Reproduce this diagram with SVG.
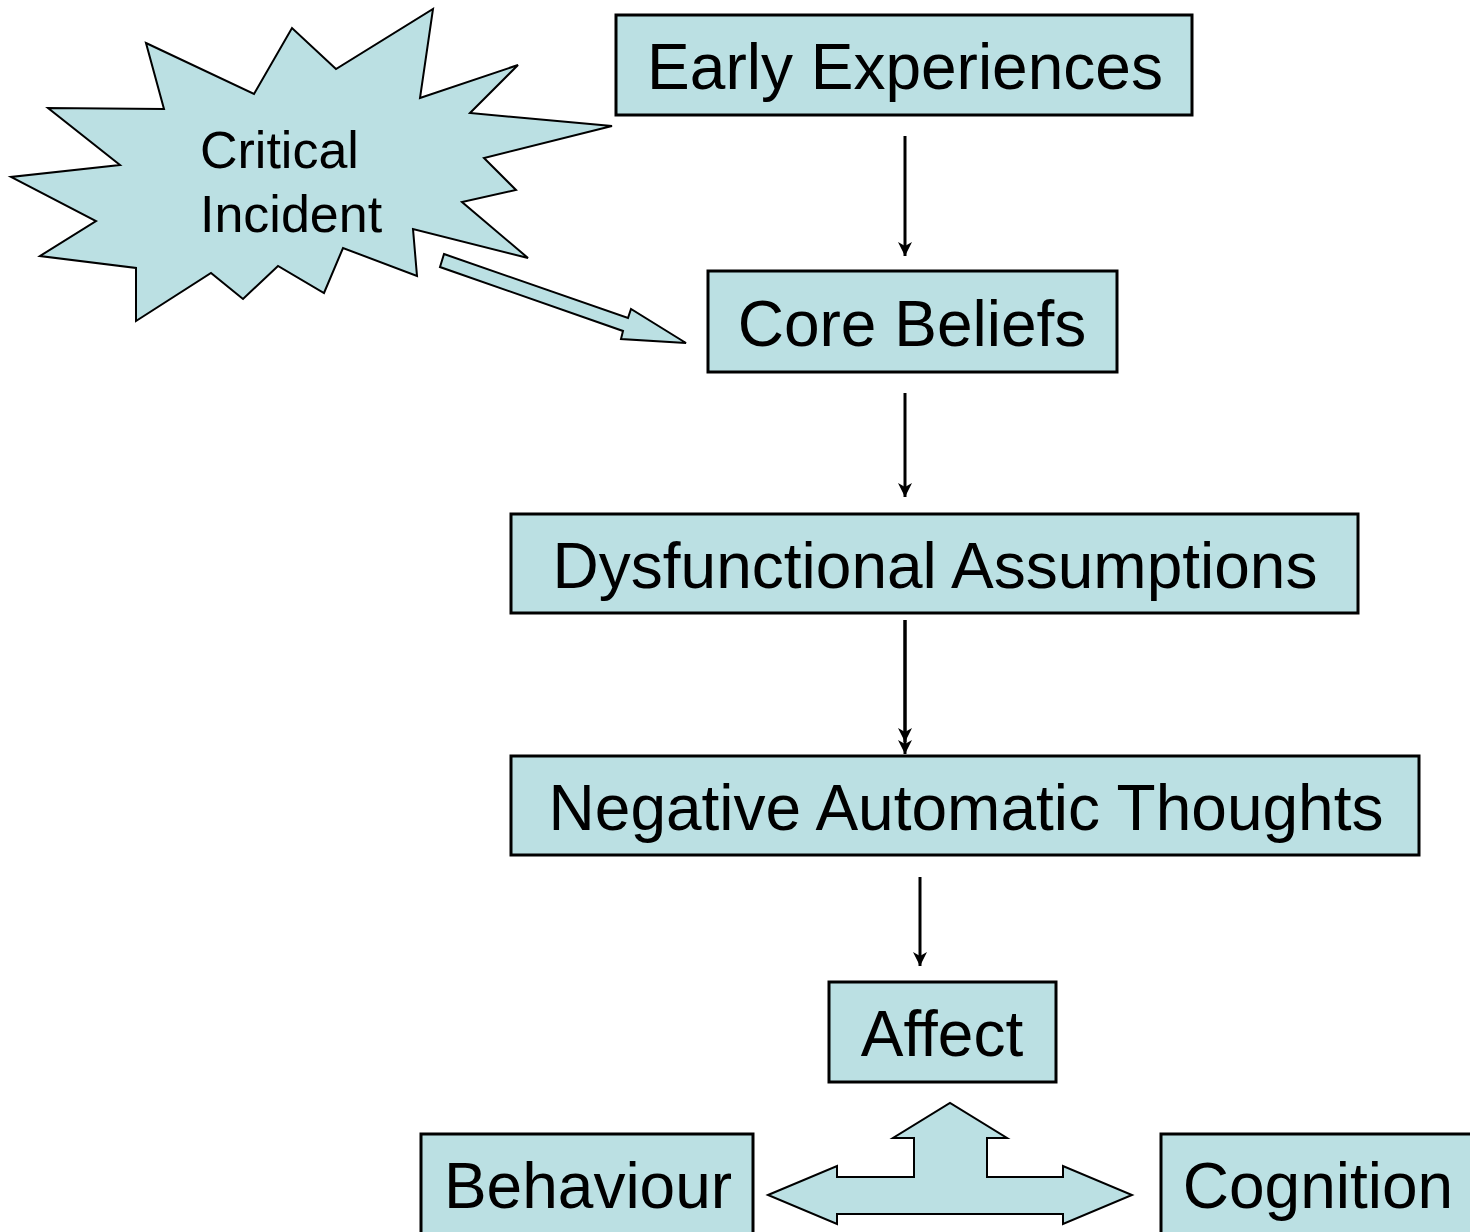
<svg xmlns="http://www.w3.org/2000/svg" width="1470" height="1232" viewBox="0 0 1470 1232">
<defs>
<marker id="ah" viewBox="0 0 16 16" refX="14" refY="8" markerWidth="16" markerHeight="16" markerUnits="userSpaceOnUse" orient="auto">
<path d="M0,1 L14,8 L0,15 L4,8 Z" fill="#000"/>
</marker>
</defs>
<style>
.box{fill:#BBE0E3;stroke:#000;stroke-width:3}
.shape{fill:#BBE0E3;stroke:#000;stroke-width:2;stroke-linejoin:miter}
.lbl{font-family:"Liberation Sans",Arial,sans-serif;font-size:64px;fill:#000;text-anchor:middle}
.ci{font-family:"Liberation Sans",Arial,sans-serif;font-size:52px;fill:#000}
.con{stroke:#000;stroke-width:3;fill:none;marker-end:url(#ah)}
</style>
<rect width="1470" height="1232" fill="#fff"/>
<g id="critical-incident">
<polygon class="shape" points="146,43 254,94 292,28 336,69 433,9 420,98 518,65 470,113 612,126 484,158 516,190 462,202 528,258 413,229 417,276 343,248 324,293 278,266 243,299 211,273 136,321 136,268 40,256 96,221 11,177 120,165 48,108 164,109"/>
<text class="ci" x="200" y="168">Critical</text>
<text class="ci" x="200" y="232">Incident</text>
</g>
<g id="early-experiences">
<rect class="box" x="616" y="15" width="576" height="100"/>
<text class="lbl" x="905" y="89">Early Experiences</text>
</g>
<g id="core-beliefs">
<rect class="box" x="708" y="271" width="409" height="101"/>
<text class="lbl" x="912" y="346">Core Beliefs</text>
</g>
<g id="dysfunctional-assumptions">
<rect class="box" x="511" y="514" width="847" height="99"/>
<text class="lbl" x="935" y="588">Dysfunctional Assumptions</text>
</g>
<g id="negative-automatic-thoughts">
<rect class="box" x="511" y="756" width="908" height="99"/>
<text class="lbl" x="966" y="830">Negative Automatic Thoughts</text>
</g>
<g id="affect">
<rect class="box" x="829" y="982" width="227" height="100"/>
<text class="lbl" x="942" y="1056">Affect</text>
</g>
<g id="behaviour">
<rect class="box" x="421" y="1134" width="332" height="110"/>
<text class="lbl" x="588" y="1208">Behaviour</text>
</g>
<g id="cognition">
<rect class="box" x="1161" y="1134" width="320" height="110"/>
<text class="lbl" x="1318" y="1208">Cognition</text>
</g>
<g id="connectors">
<path class="con" d="M905,136 L905,256"/>
<path class="con" d="M905,393 L905,497"/>
<path class="con" d="M905,620 L905,742"/>
<path class="con" d="M905,620 L905,754"/>
<path class="con" d="M920,877 L920,966"/>
<polygon class="shape" points="444,254 628,318 631,309 686,343 621,339 623,331 440,267"/>
<polygon class="shape" points="768,1195 837,1166 837,1177 914,1177 914,1138 893,1138 950,1103 1007,1138 987,1138 987,1177 1063,1177 1063,1166 1132,1195 1063,1224 1063,1214 837,1214 837,1224"/>
</g>
</svg>
